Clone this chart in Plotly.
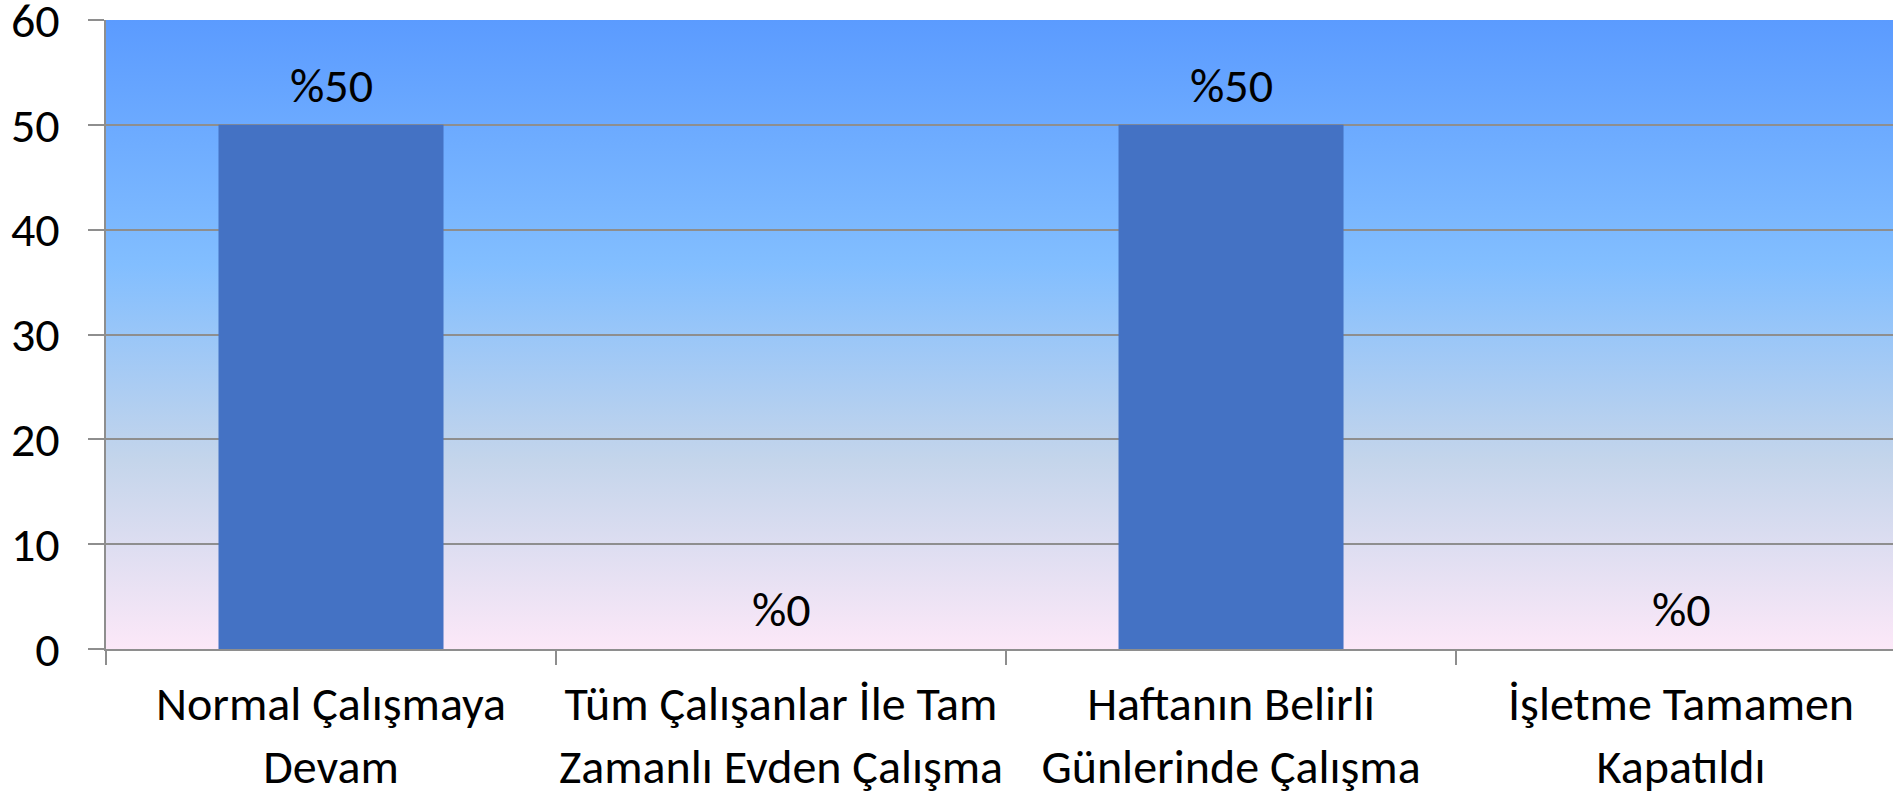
import base64
import plotly.graph_objects as go

categories = ["Normal Çalışmaya<br>Devam",
              "Tüm Çalışanlar İle Tam<br>Zamanlı Evden Çalışma",
              "Haftanın Belirli<br>Günlerinde Çalışma",
              "İşletme Tamamen<br>Kapatıldı"]
values = [50, 0, 50, 0]
labels = ["%50", "%0", "%50", "%0"]
y_ticks = [0, 10, 20, 30, 40, 50, 60]

FONT = "Carlito, Lato, sans-serif"
GRID = "#8e8e8e"
FS = 48

svg = (
    '<svg xmlns="http://www.w3.org/2000/svg" width="100" height="100" preserveAspectRatio="none">'
    '<defs><linearGradient id="g" x1="0" y1="0" x2="0" y2="1">'
    '<stop offset="0" stop-color="#5B9BFF"/>'
    '<stop offset="0.39" stop-color="#82BEFF"/>'
    '<stop offset="0.70" stop-color="#C4D5EB"/>'
    '<stop offset="1" stop-color="#FCE8F8"/>'
    '</linearGradient></defs>'
    '<rect x="0" y="0" width="100" height="100" fill="url(#g)"/></svg>'
)
src = "data:image/svg+xml;base64," + base64.b64encode(svg.encode()).decode()

fig = go.Figure()
fig.add_trace(go.Bar(x=categories, y=values, width=0.5,
                     marker=dict(color="#4472C4", line=dict(width=0)),
                     hoverinfo="skip"))

for c, v, t in zip(categories, values, labels):
    fig.add_annotation(x=c, y=v, text=t, showarrow=False, yanchor="bottom",
                       yshift=8, font=dict(family=FONT, size=FS, color="#000000"))

fig.add_layout_image(dict(source=src, xref="paper", yref="paper", x=0, y=1,
                          sizex=1, sizey=1, sizing="stretch", layer="below",
                          xanchor="left", yanchor="top"))

fig.update_layout(
    width=1893, height=798,
    margin=dict(l=106, r=0, t=20, b=149, autoexpand=False),
    paper_bgcolor="white", plot_bgcolor="rgba(0,0,0,0)",
    showlegend=False,
    bargap=0.5,
    font=dict(family=FONT, size=FS, color="#000000"),
)
fig.update_xaxes(
    range=[-0.5, 3.471], tickson="boundaries", ticks="outside", ticklen=14,
    tickcolor=GRID, tickwidth=1.5, showline=True, linecolor=GRID, linewidth=1.5,
    showgrid=False, tickfont=dict(family=FONT, size=FS), ticklabelstandoff=12,
    tickangle=0, automargin=False, fixedrange=True,
)
fig.update_yaxes(
    range=[0, 60], tickvals=y_ticks, ticks="outside", ticklen=16,
    tickcolor=GRID, tickwidth=1.5, showline=True, linecolor=GRID, linewidth=1.5,
    showgrid=True, gridcolor=GRID, gridwidth=1.5, zeroline=False,
    tickfont=dict(family=FONT, size=48), ticklabelstandoff=19,
    ticklabeloverflow="allow", automargin=False, fixedrange=True,
)

fig.write_html("out.html", config={"displayModeBar": False},
               post_script="document.body.style.margin='0';document.body.style.overflow='hidden';")
